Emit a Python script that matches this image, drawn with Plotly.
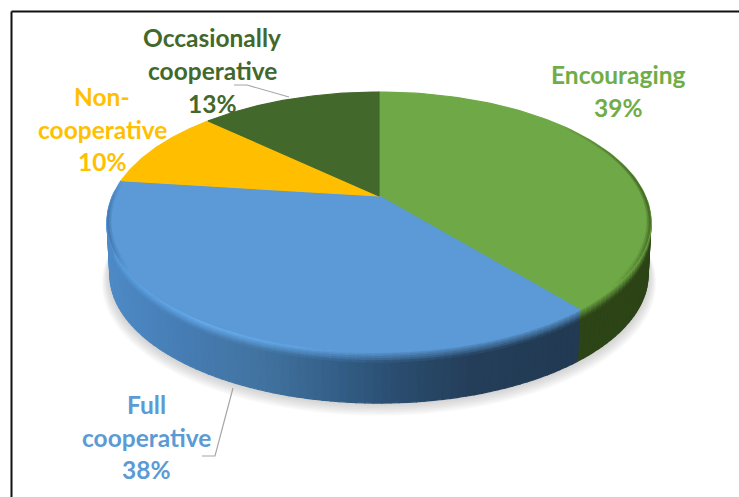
import numpy as np
import plotly.graph_objects as go

# ---------- data ----------
categories = ["Encouraging", "Full cooperative", "Non-cooperative", "Occasionally cooperative"]
values = [39, 38, 10, 13]
label_lines = [["Encouraging"], ["Full", "cooperative"], ["Non-", "cooperative"], ["Occasionally", "cooperative"]]
face_colors = ["#6fa947", "#5b9ad6", "#ffbf00", "#43682b"]
text_colors = ["#70ad47", "#5b9bd5", "#ffc000", "#43682b"]

# ---------- projection of the tilted disc ----------
CX, CY = 379.0, 196.0
Q, A, B = 0.2, 124.8, 266.5
DEPTH = 53.0
BOTTOM_R = 0.99


def project(theta, r=1.0, dy=0.0):
    u, v = r * np.sin(theta), r * np.cos(theta)
    den = 1 + Q * v
    return CX + B * u / den, CY - A * v / den + dy


def rgb(c):
    return "rgb(%d,%d,%d)" % tuple(int(round(float(x))) for x in c)


def lerp3(x, xs, cols):
    cols = np.array(cols, dtype=float)
    return np.array([np.interp(x, xs, cols[:, i]) for i in range(3)])


def hex3(h):
    return np.array([int(h[i:i + 2], 16) for i in (1, 3, 5)], dtype=float)


fig = go.Figure()


def poly(xs, ys, color):
    fig.add_trace(go.Scatter(x=list(xs), y=list(ys), mode="lines", fill="toself", fillcolor=color,
                             line=dict(color=color, width=1.2), hoverinfo="skip", showlegend=False))


def ring_fill(xs, ys, color):
    fig.add_trace(go.Scatter(x=list(xs), y=list(ys), mode="lines", fill="toself", fillcolor=color,
                             line=dict(width=0), hoverinfo="skip", showlegend=False))


# ---------- slice angles from the values ----------
fracs = np.array(values, dtype=float) / sum(values)
ends = np.cumsum(fracs) * 2 * np.pi
starts = np.concatenate([[0.0], ends[:-1]])

# ---------- soft shadow under the disc ----------
full = np.linspace(0, 2 * np.pi, 181)
for k in range(8, 0, -1):
    sx, sy = project(full, BOTTOM_R + 0.0035 * k, DEPTH + 0.9 * k)
    ring_fill(sx, sy, "rgba(120,120,120,0.045)")

# ---------- side wall ----------
wall_x = [107, 180, 260, 330, 400, 470, 578]
wall_blue = [(78, 138, 198), (70, 125, 180), (66, 115, 160), (52, 96, 138), (42, 76, 110), (36, 62, 90), (34, 58, 82)]
lit_x = [107, 200, 300, 400, 578]
lit_blue = [(90, 160, 226), (108, 180, 246), (102, 172, 238), (91, 154, 214), (91, 154, 214)]
wall_green = (44, 68, 22)
rows = [0.0, 0.03, 0.06, 0.09, 0.13, 0.17, 0.22, 1.0]
step = np.radians(1.5)
for idx in range(2):
    a0, a1 = starts[idx], ends[idx]
    n = max(int((a1 - a0) / step), 1)
    th = np.linspace(a0, a1, n + 1)
    for i in range(n):
        if th[i + 1] < np.radians(92) or th[i] > np.radians(272):
            continue
        xm = project((th[i] + th[i + 1]) / 2)[0]
        if idx == 1:
            wc, lc = lerp3(xm, wall_x, wall_blue), lerp3(xm, lit_x, lit_blue)
        else:
            wc, lc = np.array(wall_green, float), hex3(face_colors[0])
        for j in range(len(rows) - 1):
            t0, t1 = rows[j], rows[j + 1]
            mix = min((t0 + t1) / 2 / rows[-2], 1.0) if t1 < 1 else 1.0
            col = rgb(lc * (1 - mix) + wc * mix)
            r0, r1 = 1 - (1 - BOTTOM_R) * t0, 1 - (1 - BOTTOM_R) * t1
            x0, y0 = project(th[i:i + 2], r0, DEPTH * t0)
            x1, y1 = project(th[i:i + 2], r1, DEPTH * t1)
            poly([x0[0], x0[1], x1[1], x1[0], x0[0]], [y0[0], y0[1], y1[1], y1[0], y0[0]], col)

# ---------- top face ----------
for idx in range(len(values)):
    th = np.linspace(starts[idx], ends[idx], 90)
    x, y = project(th)
    poly([CX, *x, CX], [CY, *y, CY], face_colors[idx])

# ---------- dark soft lip along the rim of the right and left flanks ----------
lip_spans = [(np.radians(50), np.radians(130), "40,60,15", 0.55), (np.radians(238), np.radians(277), "40,80,130", 0.4)]
for a0, a1, base, peak in lip_spans:
    angs = np.linspace(a0, a1, 41)
    for i in range(40):
        strength = peak * np.sin(np.pi * (i + 0.5) / 40)
        for r_in, r_out, share in [(0.985, 1.0, 0.5), (0.992, 1.0, 0.7)]:
            xo, yo = project(angs[i:i + 2], r_out)
            xi, yi = project(angs[i:i + 2], r_in)
            ring_fill([xo[0], xo[1], xi[1], xi[0], xo[0]], [yo[0], yo[1], yi[1], yi[0], yo[0]],
                      "rgba(%s,%.3f)" % (base, strength * share))

# ---------- leader lines ----------
for lx, ly in [([234, 247, 289], [85, 85, 97]), ([233, 215, 202], [388, 456, 456])]:
    fig.add_trace(go.Scatter(x=lx, y=ly, mode="lines", line=dict(color="#a6a6a6", width=1.2),
                             hoverinfo="skip", showlegend=False))

# ---------- labels ----------
label_pos = [
    (618, [74, 107]),
    (146, [404, 437, 469]),
    (102, [96, 129, 161]),
    (212, [37, 70, 103]),
]
anns = []
for idx, (lx, ys) in enumerate(label_pos):
    texts = label_lines[idx] + ["%d%%" % values[idx]]
    for txt, ly in zip(texts, ys):
        anns.append(dict(x=lx, y=ly, xref="x", yref="y", text=txt, showarrow=False,
                         xanchor="center", yanchor="middle",
                         font=dict(family="Lato", size=24.5, color=text_colors[idx], weight="bold")))

fig.update_layout(
    width=739, height=497, margin=dict(l=0, r=0, t=0, b=0),
    paper_bgcolor="white", plot_bgcolor="white", showlegend=False,
    xaxis=dict(range=[0, 739], visible=False, fixedrange=True),
    yaxis=dict(range=[497, 0], visible=False, fixedrange=True),
    annotations=anns,
    shapes=[
        dict(type="line", xref="x", yref="y", x0=11.5, x1=739, y0=11.5, y1=11.5, line=dict(color="#111111", width=2)),
        dict(type="line", xref="x", yref="y", x0=11.5, x1=11.5, y0=11.5, y1=497, line=dict(color="#111111", width=2)),
    ],
)
fig.write_html("out.html", config=dict(displayModeBar=False),
               post_script="document.body.style.margin='0';document.documentElement.style.overflow='hidden';")
